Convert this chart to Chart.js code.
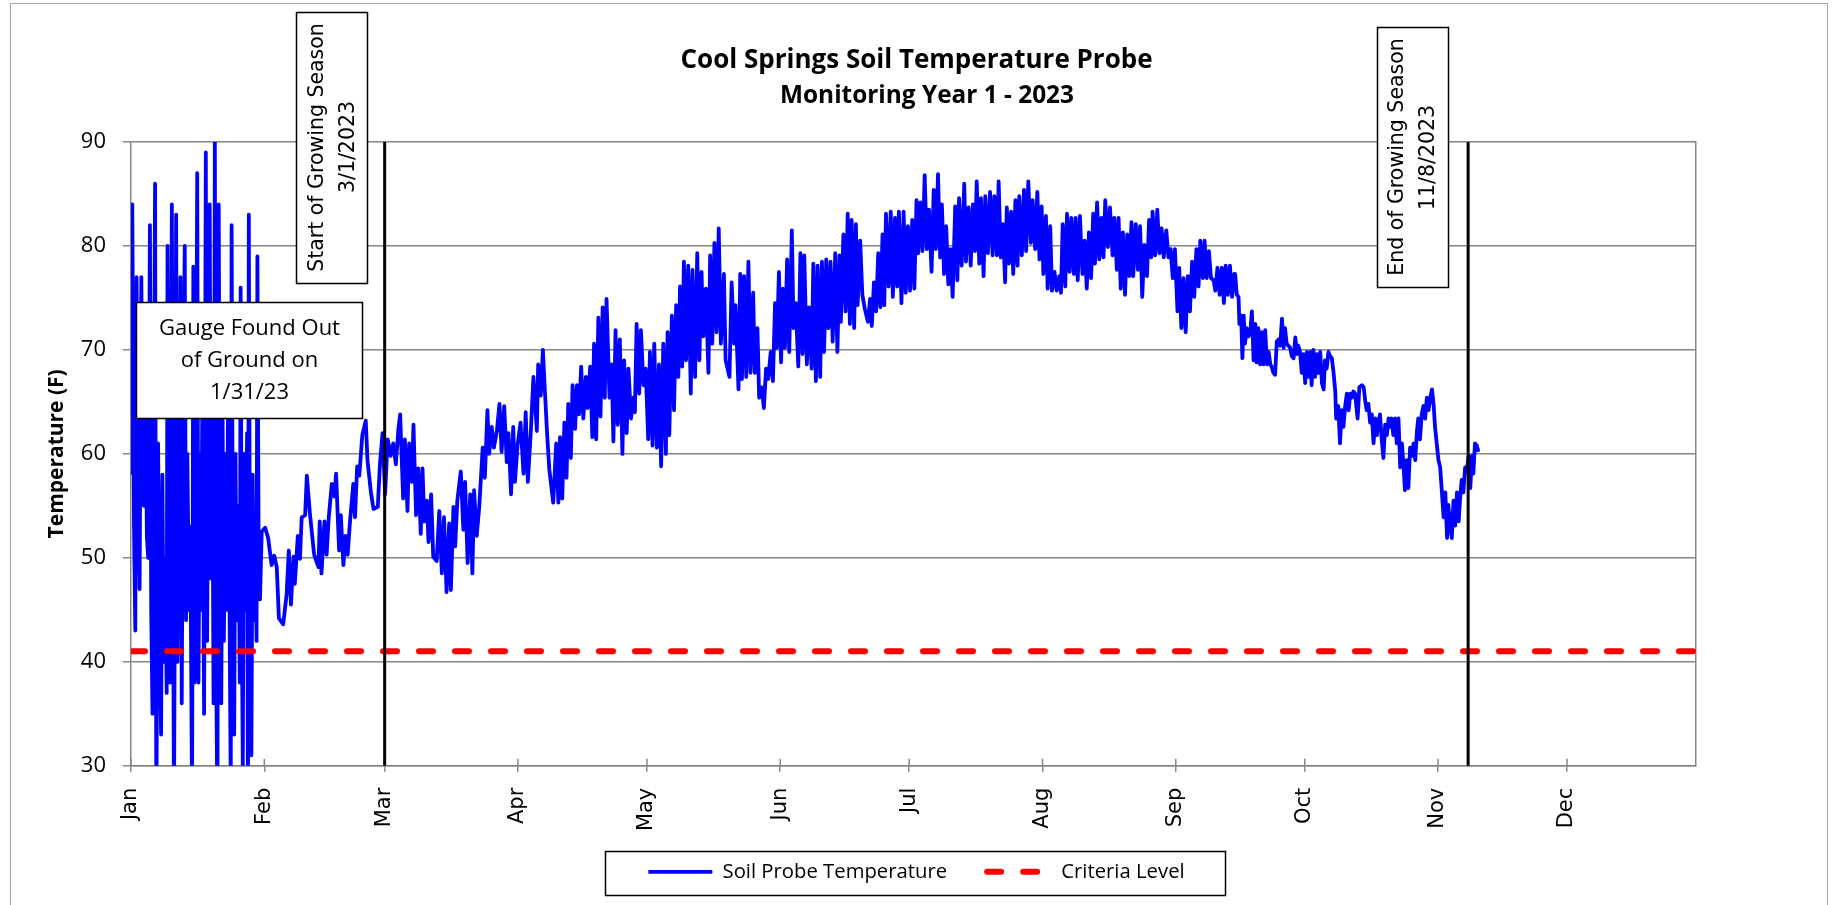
<!DOCTYPE html>
<html>
<head>
<meta charset="utf-8">
<title>Cool Springs Soil Temperature Probe</title>
<script src="https://cdn.jsdelivr.net/npm/chart.js@4.4.1/dist/chart.umd.min.js"></script>
<style>
    html, body { margin: 0; padding: 0; background: #fff; }
    #soilChart { display: block; }
</style>
</head>
<body>
<canvas id="soilChart" width="1833" height="905"></canvas>
<script>
// axis / reference values
const monthLabels = ['Jan', 'Feb', 'Mar', 'Apr', 'May', 'Jun', 'Jul', 'Aug', 'Sep', 'Oct', 'Nov', 'Dec'];
const monthStartDays = [0, 31, 59, 90, 120, 151, 181, 212, 243, 273, 304, 334];
const axisEndDay = 364;          // Dec 31
const tempMin = 30;
const tempMax = 90;
const criteriaLevel = 41;
const seasonStartDay = 59;       // 3/1/2023
const seasonEndDay = 311;        // 11/8/2023

// probe readings, day of year (0 = Jan 1) and temperature (F)
// January: gauge out of the ground, readings jump around
const janDays = [0, 0.3, 0.7, 1, 1.3, 1.7, 2, 2.4, 2.7, 3,
    3.4, 3.7, 4, 4.4, 4.7, 5, 5.3, 5.6, 5.9, 6.3,
    6.6, 7, 7.3, 7.6, 8, 8.3, 8.5, 8.8, 9.1, 9.5,
    9.8, 10, 10.3, 10.5, 10.8, 11.1, 11.5, 11.8, 12.1, 12.5,
    12.8, 13.1, 13.5, 13.8, 14.2, 14.5, 14.8, 15.1, 15.4, 15.7,
    16, 16.3, 16.6, 17, 17.4, 17.7, 18, 18.3, 18.6, 19,
    19.2, 19.5, 19.8, 20.1, 20.4, 20.7, 21, 21.3, 21.6, 22,
    22.3, 22.6, 23, 23.2, 23.4, 23.7, 24, 24.3, 24.6, 25,
    25.3, 25.5, 25.8, 26, 26.3, 26.6, 27, 27.2, 27.4, 27.7,
    28, 28.3, 28.6, 29, 29.2, 29.4, 29.7, 30];
const janTemps = [58, 84, 53, 43, 77, 56, 47, 77, 60, 55,
    66, 52, 50, 82, 45, 35, 62, 86, 25, 61,
    45, 33, 58, 40, 50, 37, 80, 45, 38, 84,
    47, 25, 60, 83, 40, 55, 77, 36, 62, 80,
    44, 60, 45, 53, 26, 78, 38, 58, 87, 38,
    60, 45, 66, 35, 89, 42, 63, 84, 48, 55,
    36, 90, 40, 25, 84, 50, 36, 64, 42, 60,
    45, 68, 40, 28, 82, 48, 33, 60, 44, 55,
    38, 76, 42, 30, 60, 45, 62, 25, 83, 42,
    31, 58, 44, 50, 42, 79, 50, 46];

const febDays = [30.4, 31.2, 31.9, 32.7, 33.3, 33.9, 34.4, 35.4, 36.2, 36.7, 37.2, 37.8, 38.1, 38.8, 39.3, 39.7,
    40.5, 40.9, 41.6, 42.6, 43.6, 43.9, 44.3, 45, 45.5, 46, 46.7, 47.3, 47.7, 48.4, 48.8, 49.4, 49.9,
    50.4, 50.9, 51.7, 52.1, 52.6, 53.1, 53.8, 54.6, 55, 55.8, 56.4, 57.4, 57.9, 58.5, 59.1, 59.7,
    60.4, 61, 61.6, 62.2];
const febTemps = [52.5, 52.9, 51.9, 49.3, 50.2, 49.1, 44.2, 43.6, 46.5, 50.7, 45.5, 50.1, 47.5, 52.1, 49.9, 53.9,
    54.1, 57.9, 54.3, 50.3, 49.1, 53.5, 48.5, 53.5, 50.3, 53.9, 57.1, 55.9, 58.1, 50.7, 54.1, 49.3, 52.1,
    50.3, 53.3, 57.1, 53.9, 58.8, 57.9, 61.8, 63.2, 59.4, 56.3, 54.7, 54.9, 59, 62, 56.1, 61.4,
    59.8, 61, 59, 62.4];

const springDays = [62.6, 63.3, 63.7, 64.3, 64.7, 65.3, 65.7, 66.3, 66.8, 67.4,
    67.8, 68.2, 68.8, 69.2, 69.8, 70.3, 71.1, 71.7, 72.3, 72.8,
    73.4, 74, 74.4, 75, 75.4, 75.9, 76.7, 77.3, 77.7, 78.3,
    78.9, 79.4, 79.8, 80.4, 81, 81.8, 82.3, 82.9, 83.3, 83.9,
    84.4, 85.1, 85.7, 86.2, 86.8, 87.4, 87.8, 88.4, 88.9, 89.3,
    89.9, 90.6, 91.3, 91.8, 92.3, 93, 93.6, 94.4, 94.7, 95.3,
    95.8, 96.3, 96.8, 97.3, 98.2, 98.9, 99.4, 99.8, 100.3, 100.8,
    101.3, 101.7, 102.3, 102.7, 103.3, 103.7, 104.2, 104.7, 105.2, 105.8,
    106.2, 106.8, 107.3, 107.7, 108.2, 108.7, 109.2, 109.7, 110.2, 110.6,
    111.3, 111.8, 112.2, 112.7, 113.2, 113.7, 114.3, 114.7, 115.3, 115.7,
    116.3, 116.8, 117.2, 117.6, 118.2, 118.6, 119.2, 119.7, 120.3, 120.7,
    121.3, 121.7, 122.3, 122.8, 123.3, 123.8, 124.4, 124.8, 125.2, 125.8,
    126.3, 126.8, 127.3, 127.7, 128.2, 128.6];
const springTemps = [63.8, 55.7, 61.4, 54.5, 61, 57.3, 62.8, 54.1, 58.6, 52.3,
    58.6, 53.5, 55.5, 51.5, 56.1, 50.1, 49.7, 54.5, 48.5, 53.9,
    46.7, 53.3, 46.9, 54.9, 51.1, 55.5, 58.3, 52.7, 57.3, 49.5,
    56.1, 48.5, 56.5, 52.1, 54.9, 60.6, 57.7, 64.2, 60, 62.6,
    60.6, 62.2, 64.8, 60.2, 64.6, 59.2, 62, 56.1, 62.6, 57.3,
    60.8, 63, 58.1, 64, 57.3, 62.2, 67.4, 62.2, 68.6, 65.6,
    70, 65.8, 61.8, 58.5, 55.3, 61, 55.3, 61.6, 55.7, 63,
    57.7, 64.8, 59.6, 66.6, 62.4, 66.6, 63.8, 68.4, 63.4, 67.4,
    64.4, 68.4, 61.6, 70.6, 61.4, 73.1, 63.6, 74.1, 65.4, 74.9,
    65.4, 68.6, 61.2, 71.9, 62.8, 71, 60, 69, 62, 68.2,
    63.4, 65.4, 64, 72.5, 65.8, 71.9, 66.6, 68.2, 61.4, 69.8,
    60.8, 70.6, 60.6, 68.6, 58.8, 70.6, 60, 71.7, 61.8, 73.3,
    64.2, 74.3, 67.4, 76.1, 68.4, 78.5];

const summerDays = [129.1, 129.6, 130.2, 130.6, 131.2, 131.7, 132.2, 132.7, 133.1, 133.7,
    134.3, 134.7, 135.2, 135.7, 136.2, 136.7, 137.2, 137.9, 138.3, 139.2,
    139.7, 140.3, 140.6, 141.3, 141.7, 142.1, 142.6, 143.1, 143.6, 144.1,
    144.7, 145.1, 145.7, 146.1, 146.7, 147.2, 147.7, 148.2, 148.8, 149.3,
    149.8, 150.2, 150.7, 151.2, 151.6, 152.1, 152.6, 153.1, 153.7, 154.1,
    154.6, 155.2, 155.7, 156.2, 156.6, 157.2, 157.7, 158.3, 158.7, 159.3,
    159.7, 160.3, 160.7, 161.2, 161.7, 162.2, 162.7, 163.2, 163.8, 164.3,
    164.8, 165.1, 165.7, 166.2, 166.7, 167.2, 167.6, 168.2, 168.6, 169,
    169.6, 170.1, 170.7, 171.4, 171.9, 172.3, 172.8, 173.3, 173.8, 174.3,
    174.8, 175.2, 175.6, 176.2, 176.7, 177.2, 177.7, 178.2, 178.6, 179.2,
    179.7, 180.2, 180.7, 181.2, 181.7, 182.2, 182.7, 183.1, 183.6, 184.1,
    184.6, 185.1, 185.6, 186.2, 186.7, 187.2, 187.7, 188.2, 188.6, 189.1,
    189.6, 190.1, 190.6, 191.1, 191.7, 192.2, 192.6];
const summerTemps = [69, 78.1, 65.8, 77.7, 67.4, 79.3, 69, 77.5, 71.3, 75.9,
    67.8, 79.1, 70.6, 80.3, 71.7, 81.7, 70.6, 77.3, 69, 67.4,
    76.5, 70.6, 74.3, 66.2, 77.3, 67.2, 77.1, 67.4, 78.5, 67.8,
    75.5, 67.8, 72.1, 65.4, 66.4, 64.4, 68.2, 67.2, 69.8, 67,
    74.5, 70.2, 77.5, 68.8, 75.9, 70.2, 78.7, 69.8, 81.5, 72.1,
    74.5, 68.4, 79.3, 69.6, 79.1, 68.6, 74.1, 68.2, 78.3, 67,
    78.1, 67.4, 78.5, 69.8, 78.7, 72.1, 78.5, 70.8, 79.3, 69.8,
    79.1, 72.7, 81.1, 73.7, 83.1, 72.5, 82.5, 72.1, 82.1, 74.3,
    80.5, 75.3, 73.9, 72.7, 74.9, 72.3, 76.5, 73.7, 79.3, 74.1,
    81.1, 74.3, 83.1, 76.1, 83.3, 75.1, 82.7, 76.1, 83.3, 74.5,
    83.3, 75.5, 81.9, 75.7, 82.5, 75.9, 84.4, 79.3, 84.2, 79.5,
    86.8, 79.7, 83.5, 77.5, 85.4, 79.7, 86.9, 78.9, 84, 77.3,
    81.9, 76.3, 79.7, 75.1, 83.8, 76.7, 84.6];

const lateSummerDays = [193.2, 193.8, 194.2, 194.8, 195.3, 195.8, 196.3, 196.7, 197.3, 197.7,
    198.3, 198.7, 199.3, 199.8, 200.4, 200.8, 201.4, 201.8, 202.3, 202.8,
    203.3, 203.7, 204.2, 204.7, 205.2, 205.7, 206.2, 206.6, 207.2, 207.7,
    208.2, 208.7, 209.3, 209.7, 210.3, 210.8, 211.3, 211.8, 212.2, 212.8,
    213.2, 213.8, 214.2, 214.8, 215.3, 215.9, 216.3, 216.7, 217.3, 217.7,
    218.3, 218.7, 219.3, 219.7, 220.2, 220.7, 221.3, 221.8, 222.3, 222.8,
    223.3, 223.8, 224.2, 224.7, 225.2, 225.7, 226.2, 226.6, 227.2, 227.7,
    228.3, 228.7, 229.3, 229.7, 230.2, 230.7, 231.2, 231.7, 232.2, 232.7,
    233.1, 233.7, 234.2, 234.7, 235.2, 235.7, 236.3, 236.8, 237.3, 237.6,
    238.2, 238.7, 239.2, 239.7, 240.2, 240.8, 241.3, 241.8, 242.3, 242.8,
    243.4, 243.8, 244.3, 244.8, 245.3, 245.8, 246.3, 246.8, 247.3, 247.8,
    248.3, 248.7, 249.3, 249.7, 250.2, 250.7, 251.2, 251.8, 252.2, 252.7,
    253.2, 253.7, 254.2, 254.6, 255.1, 255.6, 256.1, 256.6];
const lateSummerTemps = [78.1, 86, 78.5, 83.7, 78.1, 84, 79.5, 86.2, 78.3, 84.6,
    77.1, 84.8, 79.3, 85.2, 79.1, 84.8, 79.1, 86.2, 78.9, 82.1,
    76.5, 83.7, 78.3, 83.3, 77.3, 84.4, 78.1, 84.8, 79.1, 85.4,
    79.5, 86.2, 80.3, 84.4, 79.7, 85.2, 78.7, 83.8, 77.3, 82.9,
    75.9, 81.9, 75.7, 77.5, 75.7, 77.1, 75.5, 82.1, 76.1, 83.1,
    77.5, 82.7, 77.3, 82.7, 76.7, 82.9, 77.3, 80.5, 75.9, 81.3,
    76.9, 83.1, 78.3, 84.2, 78.7, 82.7, 78.9, 84.4, 79.9, 83.7,
    79.1, 82.7, 77.7, 82.7, 75.9, 81.3, 75.3, 81.1, 77.1, 82.3,
    77.1, 82.1, 77.7, 81.9, 75.1, 80.1, 77.1, 82.5, 78.9, 83.3,
    79.1, 83.5, 79.3, 81.7, 78.9, 81.5, 78.9, 79.7, 76.9, 79.7,
    73.7, 77.9, 72.1, 76.9, 71.7, 77.1, 73.7, 78.5, 75.1, 79.7,
    76.1, 80.5, 76.9, 80.5, 76.9, 79.5, 76.9, 76.7, 75.7, 77.9,
    75.3, 77.9, 74.5, 78.1, 75.3, 78.1, 75.1, 77.3];

const fallDays = [256.8, 257.2, 257.6, 257.8, 258.2, 258.5, 258.8, 259.1, 259.5, 259.9,
    260.3, 260.7, 261.1, 261.5, 261.8, 262.2, 262.6, 263, 263.4, 263.8,
    264.2, 264.6, 265, 265.3, 265.7, 266.1, 266.5, 266.9, 267.3, 267.7,
    268.1, 268.4, 268.8, 269.2, 269.6, 270, 270.4, 270.8, 271.2, 271.5,
    271.9, 272.3, 272.7, 273.1, 273.5, 273.9, 274.3, 274.6, 275, 275.4,
    275.8, 276.2, 276.6, 277, 277.4, 277.7, 278.1, 278.5, 278.9, 279.3,
    279.7, 280.1, 280.3, 280.8, 281.2, 281.6, 282, 282.4, 282.8, 283.2,
    283.6, 283.9, 284.3, 284.7, 285.3, 285.7, 286.3, 286.7, 287.1, 287.4,
    287.8, 288.2, 288.6, 289, 289.4, 289.8, 290.1, 290.5, 290.9, 291.3,
    291.7, 292.1, 292.5, 292.9, 293.2, 293.6, 294, 294.4, 294.8, 295.2,
    295.6, 296, 296.3, 296.7, 297.1, 297.5, 297.9, 298.3, 298.7, 299.1,
    299.4, 299.8, 300.2, 300.6, 301, 301.4, 301.8, 302.2, 302.6, 303,
    303.3, 303.7, 304.1, 304.5, 304.9, 305.3, 305.7, 306.1, 306.4, 306.8,
    307.2, 307.6, 308, 308.4, 308.8, 309.1, 309.5, 309.9, 310.3, 310.7,
    311.1, 311.5, 311.9, 312.2, 312.6, 313, 313.4];
const fallTemps = [77.3, 75.3, 75.1, 72.5, 73.3, 69.2, 73.3, 70.6, 72.1, 71.3,
    71.5, 73.7, 69, 72.5, 68.8, 72.1, 68.6, 71.7, 68.6, 71.9,
    68.6, 69.8, 68.6, 68.4, 67.8, 67.6, 70.8, 71, 70.4, 73,
    70.2, 72.1, 70.6, 70.4, 70.2, 69.4, 69.2, 71.2, 69.6, 70.4,
    69.8, 67.8, 69.6, 66.8, 69.8, 67.4, 69.8, 66.6, 70, 67.4,
    69.6, 67.8, 69.8, 66.8, 66.2, 69, 68.2, 69.8, 69.4, 69.2,
    67.8, 66, 63.4, 64.6, 61, 64.2, 62.6, 64.6, 65.8, 64.2,
    65.8, 65.4, 66, 65.8, 63.4, 66.4, 66.6, 66.4, 65, 64.2,
    64.8, 63, 63.8, 61, 63.4, 61.8, 63, 63.8, 61.4, 59.6,
    62.8, 61.8, 63.4, 62.6, 63.4, 61.8, 63.4, 61, 63.4, 58.7,
    61, 58.7, 56.5, 59.4, 56.7, 60.6, 59.8, 61, 59.4, 62.2,
    63.4, 61.4, 63.8, 64.6, 63.4, 65.4, 64.2, 65.4, 66.2, 64.6,
    62.6, 61, 59.4, 58.7, 56.3, 53.9, 56.3, 51.9, 55.1, 53.1,
    51.9, 55.5, 53.1, 56.3, 53.5, 55.5, 57.5, 56.3, 58.7, 58.3,
    59.8, 56.7, 59.8, 58.1, 61, 60.8, 60.2];

const toPoints = (days, temps) => days.map((d, i) => ({ x: d, y: temps[i] }));
const probePoints = [
    ...toPoints(janDays, janTemps),
    ...toPoints(febDays, febTemps),
    ...toPoints(springDays, springTemps),
    ...toPoints(summerDays, summerTemps),
    ...toPoints(lateSummerDays, lateSummerTemps),
    ...toPoints(fallDays, fallTemps)
];

const GRID = '#858585';

function upText(ctx, text, baseX, midY) {
    ctx.save();
    ctx.translate(baseX, midY);
    ctx.rotate(-Math.PI / 2);
    ctx.textAlign = 'center';
    ctx.textBaseline = 'alphabetic';
    ctx.fillText(text, 0, 0);
    ctx.restore();
}

function noteBox(ctx, left, top, w, h) {
    ctx.fillStyle = '#fff';
    ctx.fillRect(left, top, w, h);
    ctx.strokeStyle = '#000';
    ctx.lineWidth = 1.5;
    ctx.strokeRect(left, top, w, h);
}

const chartDecor = {
    id: 'chartDecor',
    beforeDraw(chart) {
        const { ctx, width, height } = chart;
        ctx.save();
        ctx.fillStyle = '#fff';
        ctx.fillRect(0, 0, width, height);
        ctx.strokeStyle = '#a6a6a6';
        ctx.lineWidth = 1;
        ctx.strokeRect(10.5, 3.5, 1817, height + 10);
        ctx.restore();
    },
    beforeDatasetsDraw(chart) {
        // inner half of the month tick marks
        const { ctx, chartArea, scales: { x } } = chart;
        ctx.save();
        ctx.strokeStyle = GRID;
        ctx.lineWidth = 1.5;
        monthStartDays.forEach(d => {
            const px = x.getPixelForValue(d);
            ctx.beginPath();
            ctx.moveTo(px, chartArea.bottom - 7);
            ctx.lineTo(px, chartArea.bottom);
            ctx.stroke();
        });
        ctx.restore();
    },
    afterDatasetsDraw(chart) {
        const { ctx, chartArea, scales: { x } } = chart;
        ctx.save();
        // start / end of growing season
        ctx.strokeStyle = '#000';
        ctx.lineWidth = 3;
        [seasonStartDay, seasonEndDay].forEach(d => {
            const px = x.getPixelForValue(d);
            ctx.beginPath();
            ctx.moveTo(px, chartArea.top);
            ctx.lineTo(px, chartArea.bottom);
            ctx.stroke();
        });

        // text boxes
        noteBox(ctx, 296.5, 12.5, 71, 271);
        noteBox(ctx, 1377.5, 27.5, 71, 260);
        noteBox(ctx, 136.5, 302.5, 226, 116);

        ctx.fillStyle = '#000';
        ctx.font = '20.5px "DejaVu Sans"';
        upText(ctx, 'Start of Growing Season', 323, 147.5);
        upText(ctx, '3/1/2023', 354, 147);
        upText(ctx, 'End of Growing Season', 1403, 157);
        upText(ctx, '11/8/2023', 1434, 157.5);

        ctx.font = '22px "Open Sans"';
        ctx.textAlign = 'center';
        ctx.textBaseline = 'alphabetic';
        ctx.fillText('Gauge Found Out', 249.5, 335);
        ctx.fillText('of Ground on', 249.5, 367);
        ctx.fillText('1/31/23', 249.5, 399);
        ctx.restore();
    },
    afterDraw(chart) {
        const { ctx } = chart;
        ctx.save();
        // second title line, sits a little right of the main one
        ctx.fillStyle = '#000';
        ctx.font = 'bold 24.4px "Open Sans"';
        ctx.textAlign = 'center';
        ctx.textBaseline = 'middle';
        ctx.fillText('Monitoring Year 1 - 2023', 927, 95.7);

        // frame round the legend
        const hb = chart.legend.legendHitBoxes;
        if (hb && hb.length) {
            const first = hb[0];
            const last = hb[hb.length - 1];
            const left = Math.round(first.left - 43) + 0.5;
            const right = Math.round(last.left + last.width + 40) + 0.5;
            const mid = first.top + first.height / 2;
            const top = Math.round(mid - 21) + 0.5;
            ctx.strokeStyle = '#000';
            ctx.lineWidth = 1.5;
            ctx.strokeRect(left, top, right - left, 44);
        }
        ctx.restore();
    }
};

Chart.defaults.color = '#000';
Chart.defaults.font.family = '"Open Sans"';

const ctx = document.getElementById('soilChart');
new Chart(ctx, {
    type: 'line',
    data: {
        datasets: [
            {
                label: 'Soil Probe Temperature',
                data: probePoints,
                borderColor: '#0000ff',
                backgroundColor: '#0000ff',
                borderWidth: 3.8,
                borderJoinStyle: 'round',
                pointRadius: 0,
                tension: 0,
                order: 2
            },
            {
                label: 'Criteria Level',
                data: [{ x: 0, y: criteriaLevel }, { x: axisEndDay, y: criteriaLevel }],
                borderColor: '#ff0000',
                backgroundColor: '#ff0000',
                borderWidth: 6,
                borderDash: [14, 22],
                borderCapStyle: 'round',
                pointRadius: 0,
                order: 1
            }
        ]
    },
    options: {
        responsive: false,
        animation: false,
        devicePixelRatio: 1,
        events: [],
        layout: { padding: { left: 0, right: 0, top: 0, bottom: 13 } },
        scales: {
            x: {
                type: 'linear',
                min: 0,
                max: axisEndDay,
                afterBuildTicks: scale => { scale.ticks = monthStartDays.map(v => ({ value: v })); },
                afterFit: scale => {
                    scale.height = 56;
                    // let the rotated month names run below the (short) axis box
                    scale._computeLabelArea = () => undefined;
                },
                ticks: {
                    autoSkip: false,
                    minRotation: 90,
                    maxRotation: 90,
                    padding: 16,
                    font: { family: '"DejaVu Sans"', size: 21 },
                    callback: (v, i) => monthLabels[i]
                },
                grid: { drawOnChartArea: false, color: GRID, lineWidth: 1.5, tickLength: 6 },
                border: { color: GRID, width: 1.5 }
            },
            y: {
                min: tempMin,
                max: tempMax,
                afterFit: scale => { scale.width = 131; },
                ticks: { stepSize: 10, padding: 17, font: { size: 22 } },
                grid: { color: GRID, lineWidth: 1.5, tickLength: 8 },
                border: { color: GRID, width: 1.5 },
                title: {
                    display: true,
                    text: 'Temperature (F)',
                    font: { size: 21, weight: 'bold' },
                    padding: { top: 44, bottom: 0 }
                }
            },
            yRight: {
                position: 'right',
                min: tempMin,
                max: tempMax,
                afterFit: scale => { scale.width = 137; },
                ticks: { display: false },
                grid: { drawOnChartArea: false, drawTicks: false },
                border: { color: GRID, width: 1.5 }
            }
        },
        plugins: {
            title: {
                display: true,
                text: 'Cool Springs Soil Temperature Probe',
                font: { size: 26, weight: 'bold' },
                padding: { top: 45, bottom: 65.8 }
            },
            legend: {
                position: 'bottom',
                labels: {
                    usePointStyle: true,
                    pointStyle: 'line',
                    pointStyleWidth: 64,
                    padding: 40,
                    font: { size: 20.3 },
                    sort: (a, b) => a.datasetIndex - b.datasetIndex,
                    // take line width / dash from the dataset, not from its points
                    generateLabels: chart => Chart.defaults.plugins.legend.labels.generateLabels(chart).map(item => {
                        const ds = chart.data.datasets[item.datasetIndex];
                        return {
                            ...item,
                            lineWidth: ds.borderWidth,
                            lineDash: ds.borderDash || [],
                            lineCap: ds.borderCapStyle || 'butt'
                        };
                    })
                }
            },
            tooltip: { enabled: false }
        }
    },
    plugins: [chartDecor]
});
</script>
</body>
</html>
